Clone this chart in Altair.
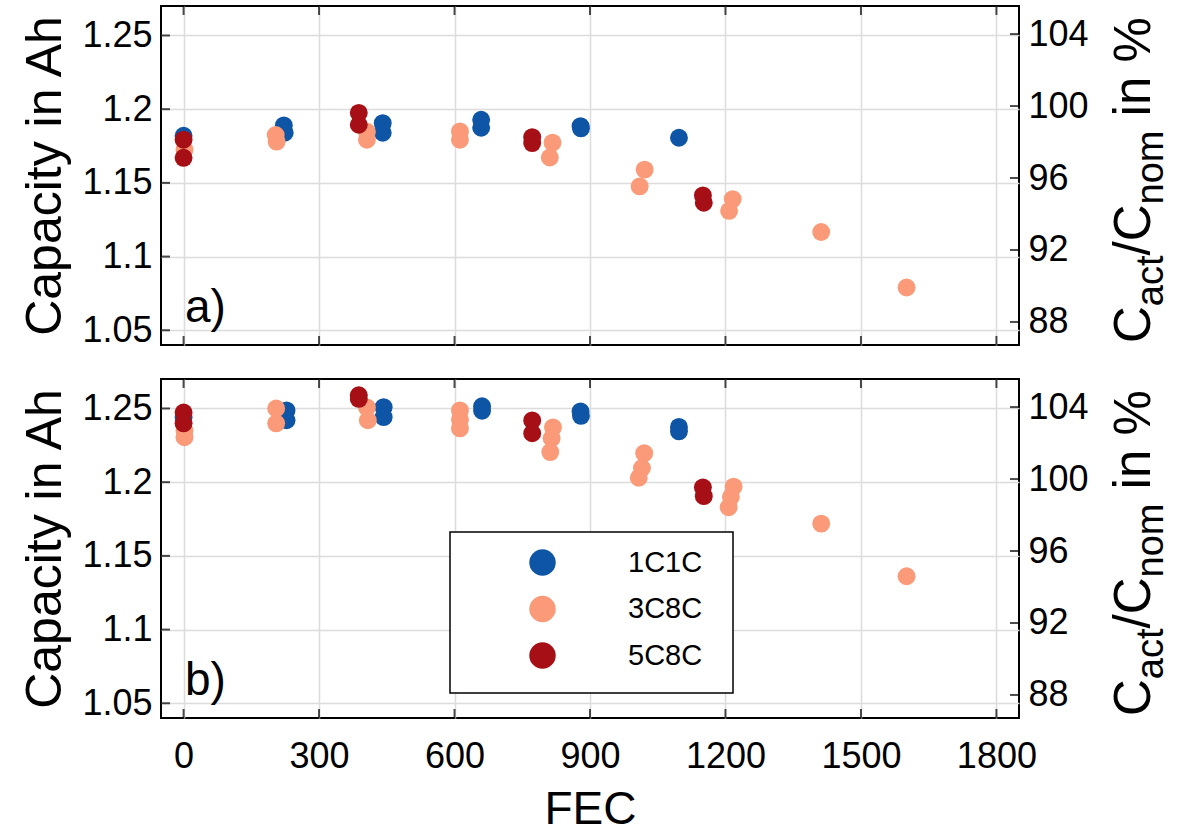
import altair as alt
import pandas as pd

# ---------------- data ----------------
series_names = ["1C1C", "3C8C", "5C8C"]
series_colors = ["#0E55A5", "#FB9A78", "#A50F15"]

# panel a)
a_1c1c_fec = [0, 222, 224, 441, 441, 659, 659, 879, 880, 1097]
a_1c1c_cap = [1.182, 1.189, 1.184, 1.1905, 1.184, 1.1928, 1.1874, 1.1885, 1.187, 1.1806]
a_3c8c_fec = [2, 204, 206, 406, 406, 612, 612, 817, 811, 1021, 1010, 1216, 1208, 1412, 1601]
a_3c8c_cap = [1.1726, 1.1825, 1.178, 1.1847, 1.1793, 1.1849, 1.1793, 1.1773, 1.1672,
              1.159, 1.1476, 1.139, 1.131, 1.1167, 1.079]
a_5c8c_fec = [0, 0, 388, 388, 772, 772, 1150, 1152]
a_5c8c_cap = [1.1793, 1.167, 1.1975, 1.1894, 1.181, 1.177, 1.1415, 1.1365]

# panel b)
b_1c1c_fec = [0, 228, 228, 443, 443, 661, 661, 879, 880, 1097, 1097]
b_1c1c_cap = [1.244, 1.2487, 1.242, 1.2509, 1.2441, 1.2515, 1.2485, 1.248, 1.245, 1.2375, 1.2345]
b_3c8c_fec = [2, 2, 205, 205, 406, 408, 612, 612, 612, 818, 815, 812, 1020, 1015, 1008,
              1218, 1212, 1207, 1412, 1601]
b_3c8c_cap = [1.235, 1.2305, 1.25, 1.2399, 1.2507, 1.242, 1.2487, 1.2425, 1.2365, 1.2372,
              1.2298, 1.2204, 1.2197, 1.2096, 1.203, 1.197, 1.19, 1.183, 1.1719, 1.1362]
b_5c8c_fec = [0, 0, 388, 388, 772, 772, 1150, 1152]
b_5c8c_cap = [1.2473, 1.2399, 1.259, 1.2565, 1.2419, 1.2332, 1.1965, 1.1905]

x_ticks = [0, 300, 600, 900, 1200, 1500, 1800]
y_ticks = [1.05, 1.1, 1.15, 1.2, 1.25]
p_ticks = [88, 92, 96, 100, 104]

# right title pieces (text, is_subscript)
rt_text = ["C", "act", "/C", "nom", "in %"]
rt_sub = [False, True, False, True, False]

# ---------------- layout constants ----------------
W, H = 858, 339
XDOM = [-50, 1850]
YDOM = [1.04, 1.27]
PDOM = [86.72, 105.56]
FONT = "Liberation Sans"
TICK_FS = 36
TITLE_FS = 50
RT_FS = 51
SUB_FS = 38
TLEN = 9

xscale = alt.Scale(domain=XDOM, nice=False, zero=False)
yscale = alt.Scale(domain=YDOM, nice=False, zero=False)
pscale = alt.Scale(domain=PDOM, nice=False, zero=False)
cscale = alt.Scale(domain=series_names, range=series_colors)

# approximate Arial advance widths (em)
ADV = {"C": .722, "a": .556, "c": .5, "t": .278, "/": .278, "n": .556, "o": .556,
       "m": .833, " ": .278, "i": .222, "%": .889}


def make_df(f1, c1, f2, c2, f3, c3):
    rows = []
    for name, fs, cs in zip(series_names, [f1, f2, f3], [c1, c2, c3]):
        for f, c in zip(fs, cs):
            rows.append({"FEC": f, "cap": c, "series": name})
    return pd.DataFrame(rows)


def right_title_layers():
    layers = []
    y = H - 2
    for txt, sub in zip(rt_text, rt_sub):
        fs = SUB_FS if sub else RT_FS
        if txt == "in %":
            y -= ADV[" "] * RT_FS
        width = sum(ADV[ch] for ch in txt) * fs
        layers.append(
            alt.Chart(pd.DataFrame({"t": [txt]}))
            .mark_text(font=FONT, fontSize=fs, angle=270, align="left",
                       baseline="alphabetic", color="black")
            .encode(text="t:N", x=alt.value(W + 131 + (13 if sub else 0)), y=alt.value(y))
        )
        y -= width
    return layers


def panel(df, label, bottom):
    if bottom:
        xaxis = alt.Axis(values=x_ticks, grid=True, labels=True, title="FEC", format="d",
                         labelPadding=21, titleY=105, titleBaseline="alphabetic",
                         titleFontSize=46)
        legend = alt.Legend(
            orient="none", legendX=367, legendY=169, title=None, zindex=2,
            direction="vertical", symbolType="circle", symbolSize=700,
            symbolStrokeWidth=0, symbolOpacity=1,
            labelFontSize=29, labelFont=FONT, labelColor="black", labelOffset=71,
            rowPadding=16.5, padding=0)
    else:
        xaxis = alt.Axis(values=x_ticks, grid=True, labels=False, title=None)
        legend = None

    pts = alt.Chart(df).mark_circle(size=320, opacity=1).encode(
        x=alt.X("FEC:Q", scale=xscale, axis=xaxis),
        y=alt.Y("cap:Q", scale=yscale,
                axis=alt.Axis(orient="left", values=y_ticks, grid=True,
                              labelExpr="datum.value == 1.1 ? '1.1' : datum.value == 1.2 ? '1.2' : format(datum.value, '.2f')",
                              title="Capacity in Ah", labelPadding=9,
                              titleX=-101, titleY=H / 2, titleAngle=270,
                              titleBaseline="alphabetic", titleAlign="center",
                              titleFontSize=TITLE_FS)),
        color=alt.Color("series:N", scale=cscale, legend=legend),
    )

    ytk = alt.Chart(pd.DataFrame({"cap": y_ticks})).mark_tick(
        color="black", thickness=2, size=TLEN).encode(
        y=alt.Y("cap:Q", scale=yscale, axis=None), x=alt.value(TLEN / 2))

    xdf = pd.DataFrame({"FEC": x_ticks})
    xtb = alt.Chart(xdf).mark_tick(color="black", thickness=2, size=TLEN).encode(
        x=alt.X("FEC:Q", scale=xscale, axis=xaxis), y=alt.value(H - TLEN / 2))
    xtt = alt.Chart(xdf).mark_tick(color="black", thickness=2, size=TLEN).encode(
        x=alt.X("FEC:Q", scale=xscale, axis=xaxis), y=alt.value(TLEN / 2))

    rtk = alt.Chart(pd.DataFrame({"pct": p_ticks})).mark_tick(
        color="black", thickness=2, size=TLEN).encode(
        y=alt.Y("pct:Q", scale=pscale,
                axis=alt.Axis(orient="right", values=p_ticks, grid=False, title=None,
                              labelPadding=9, format="d")),
        x=alt.value(W - TLEN / 2))

    lab = alt.Chart(pd.DataFrame({"t": [label]})).mark_text(
        font=FONT, fontSize=46, align="left", baseline="alphabetic", color="black"
    ).encode(text="t:N", x=alt.value(24), y=alt.value(316))

    layers = [pts, ytk, xtb, xtt, rtk, lab] + right_title_layers()

    if bottom:
        # legend frame
        box = alt.Chart(pd.DataFrame({"k": [0]})).mark_rect(
            fill="white", stroke="black", strokeWidth=1.5).encode(
            x=alt.value(289), x2=alt.value(572), y=alt.value(153), y2=alt.value(314))
        layers = layers + [box]

    return alt.layer(*layers).resolve_scale(y="independent").properties(width=W, height=H)


df_a = make_df(a_1c1c_fec, a_1c1c_cap, a_3c8c_fec, a_3c8c_cap, a_5c8c_fec, a_5c8c_cap)
df_b = make_df(b_1c1c_fec, b_1c1c_cap, b_3c8c_fec, b_3c8c_cap, b_5c8c_fec, b_5c8c_cap)

chart = alt.vconcat(panel(df_a, "a)", False), panel(df_b, "b)", True), spacing=28).resolve_scale(
    color="independent"
).properties(
    padding={"left": 19, "top": 5, "right": 0, "bottom": 0}
).configure_view(
    stroke="black", strokeWidth=2
).configure_axis(
    domain=False, ticks=False, tickSize=0, gridColor="#DCDCDC", gridWidth=1.5,
    labelFont=FONT, labelFontSize=TICK_FS, labelColor="black",
    titleFont=FONT, titleFontWeight="normal", titleColor="black"
)

chart.save("out.html", embed_options={"renderer": "svg", "actions": False})
